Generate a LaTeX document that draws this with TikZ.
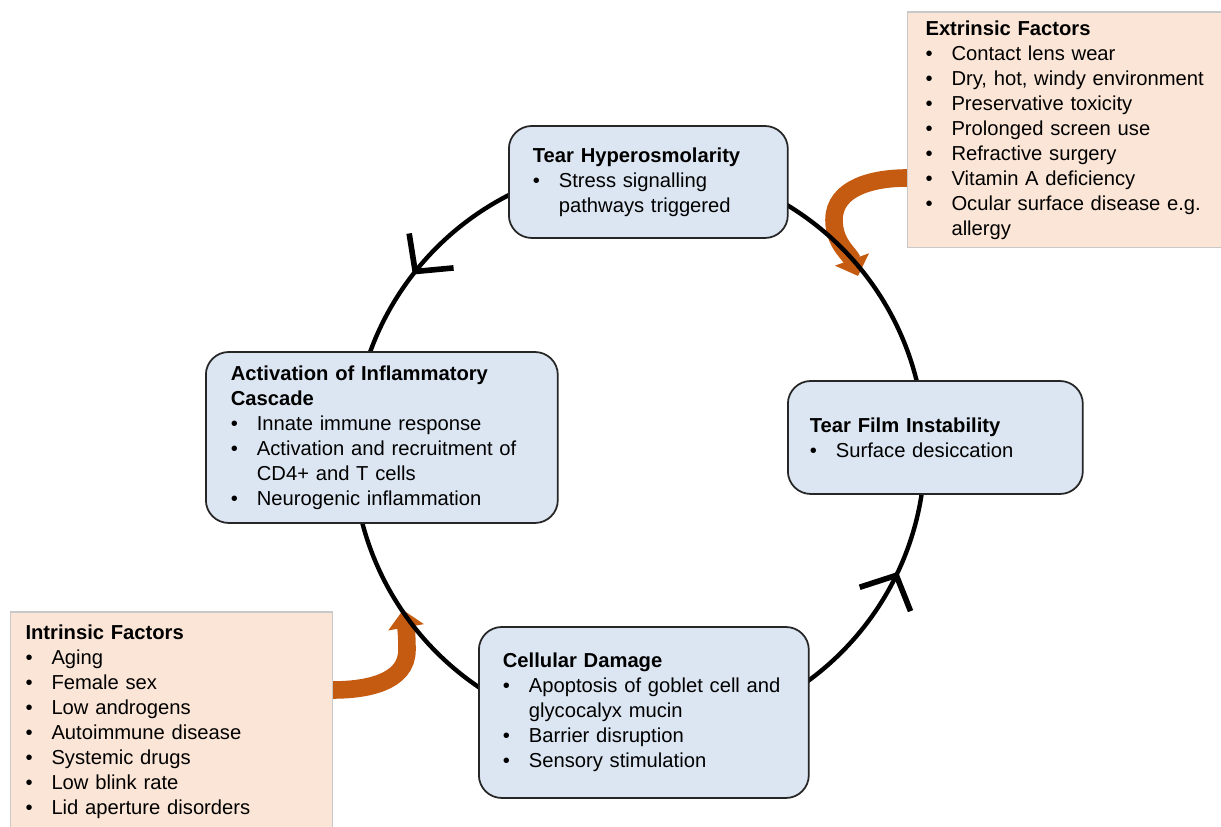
\documentclass[tikz,border=0pt]{standalone}
\usepackage{fontspec}
\setmainfont{Liberation Sans}
\usetikzlibrary{arrows.meta,decorations.markings,backgrounds,calc}
\definecolor{boxblue}{RGB}{220,230,242}
\definecolor{boxpeach}{RGB}{251,229,214}
\definecolor{peachedge}{RGB}{200,200,200}
\definecolor{pushorange}{RGB}{197,90,17}
\newcommand{\bitem}{\par\hangindent=0.52cm\hangafter=1\noindent\makebox[0.52cm][l]{\textbullet}}
\begin{document}
\begin{tikzpicture}[x=0.02cm,y=0.02cm,
  stage/.style={draw=black!85,line width=1pt,fill=boxblue,rounded corners=13pt,anchor=west,align=left,inner ysep=2pt,font=\fontsize{11.5}{14.2}\selectfont},
  factor/.style={draw=peachedge,line width=0.6pt,fill=boxpeach,anchor=west,align=left,inner ysep=2pt,font=\fontsize{11.5}{14.2}\selectfont},
  loopline/.style={line width=2.5pt},
  midarrow/.style={postaction={decorate},decoration={markings,mark=at position #1 with {\arrow[line width=3.2pt]{Straight Barb[length=15pt,width=32pt]}}}},
  push/.style={line width=10pt,draw=pushorange,-{Triangle[length=10pt,width=20pt]}}]

\useasboundingbox (0,0) rectangle (1221,827);

\coordinate (ctr) at (639,377);
\coordinate (ctop) at (639,663);
\coordinate (cleft) at (353,377);
\coordinate (cbot) at (639,91);
\coordinate (cright) at (925,377);

\node[stage,text width=4.62cm,inner xsep=0.48cm,minimum height=2.24cm] (hyper) at (508,645)
  {\noindent\textbf{Tear Hyperosmolarity}
   \bitem Stress signalling\newline pathways triggered\par};
\node[stage,text width=5.02cm,inner xsep=0.44cm,minimum height=2.26cm] (film) at (787,389.5)
  {\noindent\textbf{Tear Film Instability}
   \bitem Surface desiccation\par};
\node[stage,text width=6.04cm,inner xsep=0.5cm,minimum height=3.42cm] (inflam) at (205,389.5)
  {\noindent\textbf{Activation of Inflammatory\newline Cascade}
   \bitem Innate immune response
   \bitem Activation and recruitment of\newline CD4+ and T cells
   \bitem Neurogenic inflammation\par};
\node[stage,text width=5.64cm,inner xsep=0.48cm,minimum height=3.42cm] (damage) at (478,114.5)
  {\noindent\textbf{Cellular Damage}
   \bitem Apoptosis of goblet cell and\newline glycocalyx mucin
   \bitem Barrier disruption
   \bitem Sensory stimulation\par};

\node[factor,text width=5.68cm,inner xsep=0.36cm,minimum height=4.72cm] (extr) at (907,697)
  {\noindent\textbf{Extrinsic Factors}
   \bitem Contact lens wear
   \bitem Dry, hot, windy environment
   \bitem Preservative toxicity
   \bitem Prolonged screen use
   \bitem Refractive surgery
   \bitem Vitamin A deficiency
   \bitem Ocular surface disease e.g.\newline allergy\par};
\node[factor,text width=5.84cm,inner xsep=0.3cm,minimum height=4.38cm] (intr) at (10,105.5)
  {\noindent\textbf{Intrinsic Factors}
   \bitem Aging
   \bitem Female sex
   \bitem Low androgens
   \bitem Autoimmune disease
   \bitem Systemic drugs
   \bitem Low blink rate
   \bitem Lid aperture disorders\par};

\coordinate (es) at ($(extr.west)+(0,-48)$);
\coordinate (em) at (834,607);
\coordinate (et) at (858,551);
\coordinate (is) at ($(intr.east)+(0,31.5)$);
\coordinate (im) at (407,177);
\coordinate (it) at (403,217);

\begin{scope}[on background layer]
\draw[push] (es) to[out=180,in=90] (em) to[out=270,in=110] (et);
\draw[push] (is) to[out=0,in=270] (im) to[out=90,in=280] (it);

\draw[loopline,midarrow=0.58] (ctop) to[out=180,in=90] (cleft);
\draw[loopline] (cleft) to[out=270,in=180] (cbot);
\draw[loopline,midarrow=0.72] (cbot) to[out=0,in=270] (cright);
\draw[loopline] (cright) to[out=90,in=0] (ctop);
\end{scope}

\end{tikzpicture}
\end{document}
